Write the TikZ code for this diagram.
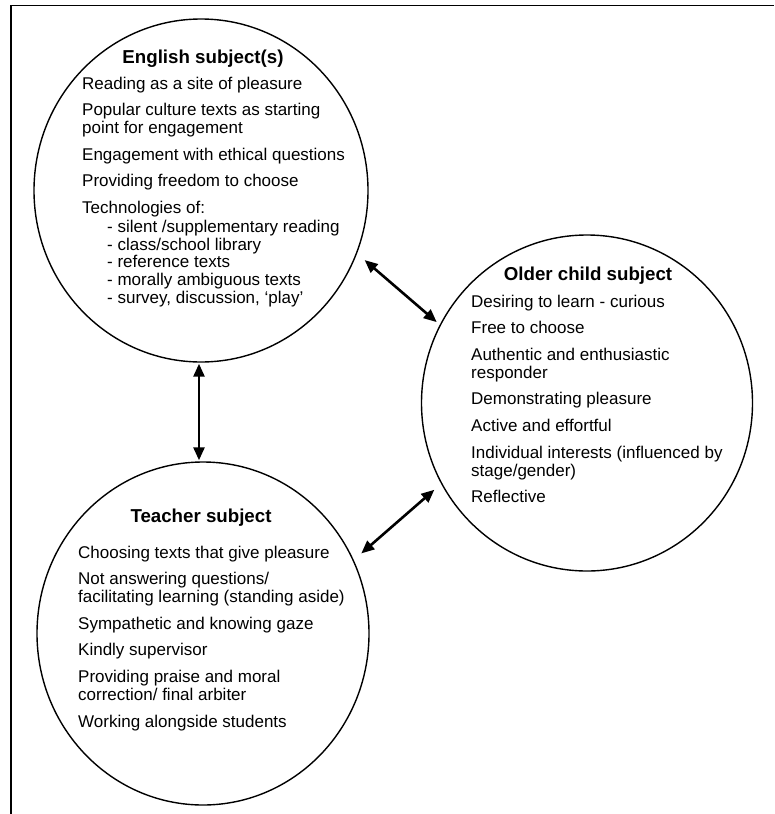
\documentclass[tikz,border=0pt]{standalone}
\usepackage{fontspec}
\setmainfont{Liberation Sans}
\usetikzlibrary{shapes.geometric, arrows.meta}

\begin{document}
\begin{tikzpicture}[x=1pt, y=-1pt,
    bubble/.style={draw, ellipse, line width=1.4pt, inner sep=0pt},
    title/.style={anchor=base, inner sep=0pt, font=\fontsize{18.7}{20}\selectfont\bfseries},
    body/.style={anchor=north west, inner sep=0pt, align=left, font=\fontsize{17}{17.7}\selectfont},
    link/.style={line width=2.6pt, {Triangle[length=13pt,width=11pt]}-{Triangle[length=13pt,width=11pt]}}]

    \def\Gap{9pt}

    \useasboundingbox (0,0) rectangle (774,814);

    % Frame (cut off at right and bottom)
    \draw[line width=1.8pt] (11,814) -- (11,5.5) -- (774,5.5);

    % Circles
    \node[bubble, minimum width=334pt, minimum height=343pt] (eng) at (201,190.5) {};
    \node[bubble, minimum width=331pt, minimum height=336pt] (old) at (587,403) {};
    \node[bubble, minimum width=332pt, minimum height=343pt] (tch) at (203,633.5) {};

    % English subject(s)
    \node[title] (engT) at (203,63) {English subject(s)};
    \node[body] (engB) at (82,76.6) {%
        Reading as a site of pleasure\\[\Gap]
        Popular culture texts as starting\\point for engagement\\[\Gap]
        Engagement with ethical questions\\[\Gap]
        Providing freedom to choose\\[\Gap]
        Technologies of:\\[1pt]
        \hspace*{25pt}- silent /supplementary reading\\
        \hspace*{25pt}- class/school library\\
        \hspace*{25pt}- reference texts\\
        \hspace*{25pt}- morally ambiguous texts\\
        \hspace*{25pt}- survey, discussion, ‘play’};

    % Older child subject
    \node[title] (oldT) at (588,280) {Older child subject};
    \node[body] (oldB) at (471,294.6) {%
        Desiring to learn - curious\\[\Gap]
        Free to choose\\[\Gap]
        Authentic and enthusiastic\\responder\\[\Gap]
        Demonstrating pleasure\\[\Gap]
        Active and effortful\\[\Gap]
        Individual interests (influenced by\\stage/gender)\\[\Gap]
        Reflective};

    % Teacher subject
    \node[title] (tchT) at (201,522) {Teacher subject};
    \node[body] (tchB) at (78,545.6) {%
        Choosing texts that give pleasure\\[\Gap]
        Not answering questions/\\facilitating learning (standing aside)\\[\Gap]
        Sympathetic and knowing gaze\\[\Gap]
        Kindly supervisor\\[\Gap]
        Providing praise and moral\\correction/ final arbiter\\[\Gap]
        Working alongside students};

    % Arrows
    \draw[link, shorten <=10pt, shorten >=4pt] (eng.-22) -- (old.152);
    \draw[link, shorten <=1pt, shorten >=1pt] ([xshift=-2pt]eng.south) -- ([xshift=-2pt]eng.south |- tch.north);
    \draw[link, shorten <=10pt, shorten >=9pt] (tch.26) -- (old.209);

\end{tikzpicture}
\end{document}
